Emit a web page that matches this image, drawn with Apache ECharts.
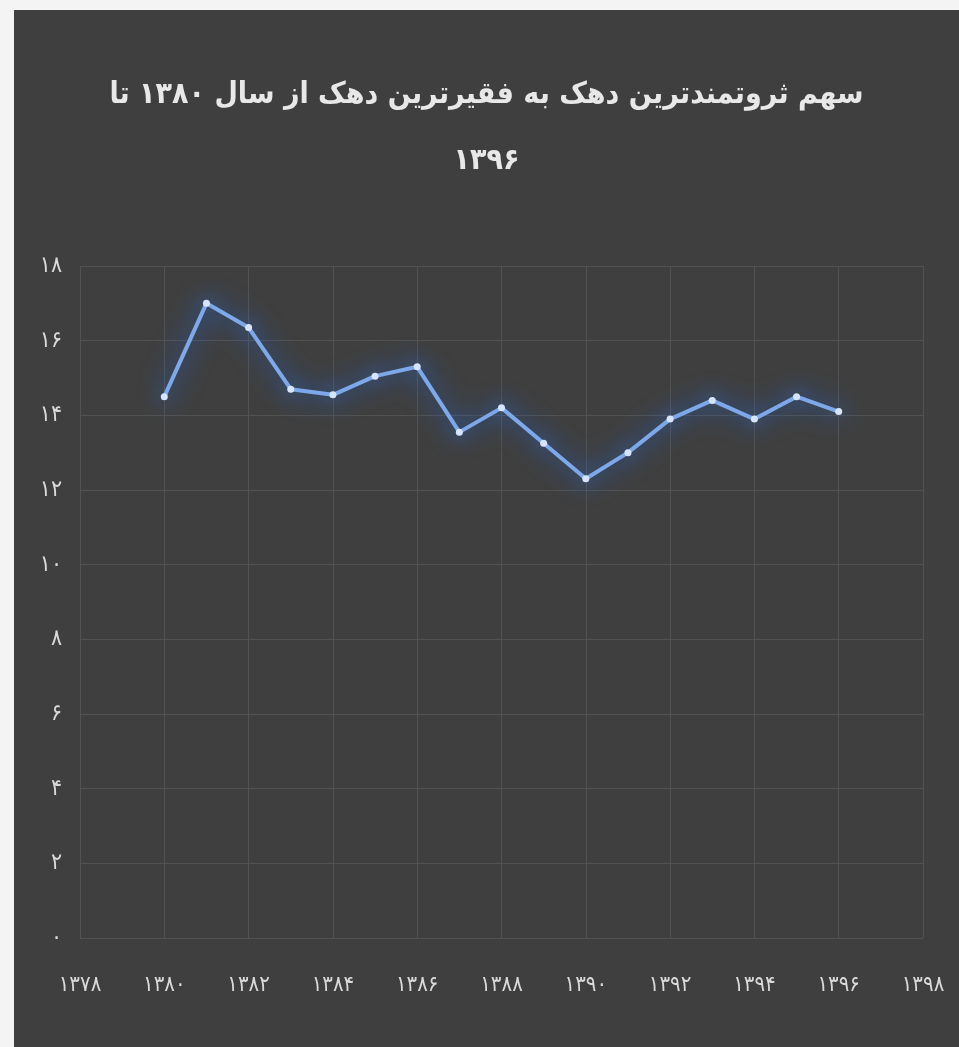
<!DOCTYPE html>
<html>
<head>
<meta charset="utf-8">
<script src="https://cdn.jsdelivr.net/npm/echarts@6/dist/echarts.min.js"></script>
<style>
html,body{margin:0;padding:0;background:#f4f4f4;}
#frame{position:absolute;left:14px;top:10px;width:945px;height:1037px;background:#3f3f3f;}
#chart{position:absolute;left:14px;top:0;width:945px;height:1047px;}
</style>
</head>
<body>
<div id="frame"></div>
<div id="chart"></div>
<script>
const titleText = 'سهم ثروتمندترین دهک به فقیرترین دهک از سال ۱۳۸۰ تا\n۱۳۹۶';
const years = [1380,1381,1382,1383,1384,1385,1386,1387,1388,1389,1390,1391,1392,1393,1394,1395,1396];
const ratios = [14.5,17.0,16.35,14.7,14.55,15.05,15.3,13.55,14.2,13.25,12.3,13.0,13.9,14.4,13.9,14.5,14.1];
const xTicks = [1378,1380,1382,1384,1386,1388,1390,1392,1394,1396,1398];
const yTicks = [0,2,4,6,8,10,12,14,16,18];
const faDigits = ['۰','۱','۲','۳','۴','۵','۶','۷','۸','۹'];
const toFa = v => String(v).replace(/[0-9]/g, d => faDigits[+d]);

const chart = echarts.init(document.getElementById('chart'));
chart.setOption({
  backgroundColor: 'transparent',
  title: {
    text: titleText,
    left: 'center', top: 57,
    textStyle: {color: '#e8e8e8', fontFamily: 'DejaVu Sans Condensed', fontWeight: 'bold', fontSize: 30, lineHeight: 66}
  },
  grid: {left: 66, right: 36, top: 266, bottom: 109},
  xAxis: {
    type: 'value', min: xTicks[0], max: xTicks[xTicks.length-1], interval: 2,
    axisLine: {show: false}, axisTick: {show: false},
    axisLabel: {color: '#dadada', fontFamily: 'DejaVu Sans Condensed', fontSize: 22, margin: 36, formatter: v => toFa(v)},
    splitLine: {show: true, lineStyle: {color: '#525252', width: 1}}
  },
  yAxis: {
    type: 'value', min: yTicks[0], max: yTicks[yTicks.length-1], interval: 2,
    axisLine: {show: false}, axisTick: {show: false},
    axisLabel: {color: '#dadada', fontFamily: 'DejaVu Sans Condensed', fontSize: 23, margin: 18, formatter: v => toFa(v)},
    splitLine: {show: true, lineStyle: {color: '#525252', width: 1}}
  },
  series: [{
    type: 'line',
    data: years.map((y, i) => [y, ratios[i]]),
    symbol: 'circle', symbolSize: 7,
    lineStyle: {color: '#7fa9ea', width: 4, shadowColor: 'rgba(30,110,255,1)', shadowBlur: 26},
    itemStyle: {color: '#d6e4ff', shadowColor: 'rgba(70,140,255,1)', shadowBlur: 22},
    z: 5
  }]
});
</script>
</body>
</html>
